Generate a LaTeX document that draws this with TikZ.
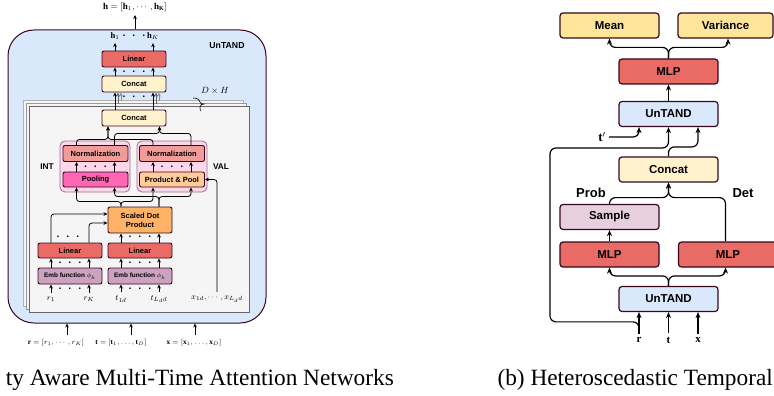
\documentclass[tikz,border=0pt]{standalone}
\usepackage{fontspec}
\setmainfont{Liberation Serif}
\setsansfont{Liberation Sans}
\usepackage{amsmath,amssymb}
\usetikzlibrary{calc,arrows.meta}
\definecolor{boxline}{HTML}{36071F}
\definecolor{cblue}{HTML}{DAE8FC}
\definecolor{cred}{HTML}{EA6B66}
\definecolor{ccat}{HTML}{FFF2CC}
\definecolor{cmean}{HTML}{FFE599}
\definecolor{cnorm}{HTML}{F19C99}
\definecolor{cpool}{HTML}{FF66B3}
\definecolor{cprod}{HTML}{FFCC99}
\definecolor{csdp}{HTML}{FFB366}
\definecolor{cemb}{HTML}{CDA2BE}
\definecolor{csample}{HTML}{E6D0DE}
\definecolor{cgroup}{HTML}{FAD7E9}
\definecolor{cgroupline}{HTML}{A07090}
\definecolor{cpage}{HTML}{F5F5F5}
\tikzstyle{bigbox} = [
    draw=boxline,
    fill=cblue,
    line width=1pt,
    rounded corners=26pt,
    minimum width=258pt,
    minimum height=293pt
    ]
\tikzstyle{page} = [
    draw=black!60,
    fill=cpage,
    line width=0.8pt,
    minimum width=220pt,
    minimum height=206pt
    ]
\tikzstyle{grp} = [
    draw=cgroupline,
    fill=cgroup,
    line width=0.8pt,
    rounded corners=5pt,
    minimum width=70pt,
    minimum height=51pt
    ]
\tikzstyle{lbox} = [
    draw=boxline,
    line width=0.9pt,
    rounded corners=2pt,
    minimum width=64pt,
    minimum height=16pt,
    inner sep=0pt,
    align=center,
    font=\sffamily\bfseries\fontsize{7.5}{8.5}\selectfont
    ]
\tikzstyle{rbox} = [
    draw=boxline,
    line width=1.2pt,
    rounded corners=3pt,
    minimum width=99pt,
    minimum height=25pt,
    inner sep=0pt,
    font=\sffamily\bfseries\fontsize{11.5}{13}\selectfont
    ]
\tikzstyle{tag} = [font=\sffamily\bfseries\fontsize{8.3}{9}\selectfont, inner sep=0pt]
\tikzstyle{dotrow} = [font=\boldmath\fontsize{11}{11}\selectfont, inner sep=0pt]
\tikzstyle{wire} = [line width=0.8pt, rounded corners=3pt]
\tikzstyle{arr} = [wire, -{Stealth[length=4pt,width=3.6pt]}]
\tikzstyle{rwire} = [line width=1.2pt, rounded corners=6pt]
\tikzstyle{rarr} = [rwire, -{Stealth[length=6pt,width=5pt]}]

\begin{document}
\begin{tikzpicture}[x=1pt,y=-1pt]
\useasboundingbox (0,0) rectangle (774,396);
\clip (0,0) rectangle (774,396);

% (a) UnTAND
\node[bigbox] (untL) at (137,176.5) {};
\node[tag, font=\sffamily\bfseries\fontsize{8.7}{9}\selectfont] (untLname) at (227,46) {UnTAND};
\node[page, draw=black!30] (pg1) at (133,203) {};
\node[page, draw=black!40] (pg2) at (136,206) {};
\node[page] (pg3) at (139,209) {};

\node[lbox, fill=cred] (lin) at (134,59) {Linear};
\node[lbox, fill=ccat] (catB) at (134,84) {Concat};
\node[lbox, fill=ccat] (catA) at (134,118) {Concat};

\node[grp] (intgrp) at (95,166.5) {};
\node[grp] (valgrp) at (172,166.5) {};
\node[lbox, fill=cnorm, minimum width=65pt] (intnorm) at (95.5,153.5) {Normalization};
\node[lbox, fill=cnorm, minimum width=65pt] (valnorm) at (172,153.5) {Normalization};
\node[lbox, fill=cpool, minimum width=65pt, minimum height=15pt] (pool) at (95.5,179.5) {Pooling};
\node[lbox, fill=cprod, minimum width=65pt, minimum height=15pt] (ppool) at (172,179.5) {Product \& Pool};
\node[tag] (intname) at (47,167) {INT};
\node[tag] (valname) at (221,167) {VAL};

\node[lbox, fill=csdp, minimum height=26pt, font=\sffamily\bfseries\fontsize{7.5}{9}\selectfont] (sdp) at (140,220) {Scaled Dot\\Product};
\node[lbox, fill=cred, minimum height=15pt] (linL) at (70,250.5) {Linear};
\node[lbox, fill=cred, minimum height=15pt] (linR) at (140,250.5) {Linear};
\node[lbox, fill=cemb, font=\sffamily\bfseries\fontsize{6.4}{7}\selectfont] (embL) at (70,276) {Emb function $\phi_h$};
\node[lbox, fill=cemb, font=\sffamily\bfseries\fontsize{6.4}{7}\selectfont] (embR) at (140,276) {Emb function $\phi_h$};

% inputs inside
\node[font=\fontsize{8}{9}\selectfont] (r1) at (51,299) {$r_1$};
\node[font=\fontsize{8}{9}\selectfont] (rK) at (89,299) {$r_K$};
\node[font=\fontsize{8}{9}\selectfont] (t1) at (121,299) {$t_{1d}$};
\node[font=\fontsize{8}{9}\selectfont] (tL) at (159,299) {$t_{L_d d}$};
\node[font=\fontsize{8}{9}\selectfont] (xin) at (217,299) {$x_{1d},\cdots,x_{L_d d}$};

\foreach \n in {r1,rK,t1,tL} \draw[arr] (\n.north) -- (\n.north |- embL.south);
\node[dotrow] at (70,289) {$\cdot\;\cdot\;\cdot$};
\node[dotrow] at (140,289) {$\cdot\;\cdot\;\cdot$};

\draw[arr] ([xshift=-19pt]embL.north) -- ([xshift=-19pt]linL.south);
\draw[arr] ([xshift=19pt]embL.north) -- ([xshift=19pt]linL.south);
\draw[arr] ([xshift=-19pt]embR.north) -- ([xshift=-19pt]linR.south);
\draw[arr] ([xshift=19pt]embR.north) -- ([xshift=19pt]linR.south);
\node[dotrow] at (70,263) {$\cdot\;\cdot\;\cdot$};
\node[dotrow] at (140,263) {$\cdot\;\cdot\;\cdot$};

\draw[arr] ([xshift=-19pt]linL.north) |- ($(sdp.west)+(0,-6)$);
\draw[arr] ([xshift=19pt]linL.north) |- ($(sdp.west)+(0,3)$);
\draw[arr] ([xshift=-19pt]linR.north) -- ([xshift=-19pt]sdp.south);
\draw[arr] ([xshift=19pt]linR.north) -- ([xshift=19pt]sdp.south);
\node[dotrow] at (68,237) {$\cdot\;\cdot\;\cdot$};
\node[dotrow] at (140,237) {$\cdot\;\cdot\;\cdot$};

% scaled dot product to the two heads
\draw[arr] ([xshift=-19pt]sdp.north) -- ++(0,-5) -| ([xshift=-19pt]pool.south);
\draw[arr] ([xshift=-19pt]sdp.north) -- ++(0,-5) -| ([xshift=-19pt]ppool.south);
\draw[arr] ([xshift=19pt]sdp.north) -- ++(0,-10) -| ([xshift=19pt]pool.south);
\draw[arr] ([xshift=19pt]sdp.north) -- ++(0,-10) -| ([xshift=19pt]ppool.south);
\draw[arr] (xin.north) |- (ppool.east);

\draw[arr] ([xshift=-19pt]pool.north) -- ([xshift=-19pt]intnorm.south);
\draw[arr] ([xshift=19pt]pool.north) -- ([xshift=19pt]intnorm.south);
\draw[arr] ([xshift=-19pt]ppool.north) -- ([xshift=-19pt]valnorm.south);
\draw[arr] ([xshift=19pt]ppool.north) -- ([xshift=19pt]valnorm.south);
\node[dotrow] at (95.5,167) {$\cdot\;\cdot\;\cdot$};
\node[dotrow] at (172,167) {$\cdot\;\cdot\;\cdot$};

% heads to concat
\draw[arr] ([xshift=-19pt]intnorm.north) |- ($(catA.south)+(-26,13)$) -- ($(catA.south)+(-26,0)$);
\draw[arr] ([xshift=-19pt]valnorm.north) |- ($(catA.south)+(-26,13)$) -- ($(catA.south)+(-26,0)$);
\draw[arr] ([xshift=19pt]intnorm.north) |- ($(catA.south)+(25.5,7)$) -- ($(catA.south)+(25.5,0)$);
\draw[arr] ([xshift=19pt]valnorm.north) |- ($(catA.south)+(25.5,7)$) -- ($(catA.south)+(25.5,0)$);

% D x H heads
\foreach \s in {-19,19} {
  \draw[arr, black!45] ($(catA.north)+(\s+6,-9)$) -- ($(catB.south)+(\s+6,0)$);
  \draw[arr, black!60] ($(catA.north)+(\s+3,-6)$) -- ($(catB.south)+(\s+3,0)$);
  \draw[arr] ([xshift=\s pt]catA.north) -- ([xshift=\s pt]catB.south);
}
\node[dotrow] at (134,97) {$\cdot\;\cdot\;\cdot$};
\draw[line width=0.6pt] (193,98) .. controls (198,98) and (200,100) .. (200,102)
  .. controls (200,104) and (202,104) .. (204,104)
  .. controls (202,104) and (200,105) .. (200,107)
  .. controls (200,109) and (200,110) .. (201,111);
\node[font=\fontsize{9}{10}\selectfont] (dh) at (215,91) {$D\times H$};

\draw[arr] ([xshift=-19pt]catB.north) -- ([xshift=-19pt]lin.south);
\draw[arr] ([xshift=19pt]catB.north) -- ([xshift=19pt]lin.south);
\node[dotrow] at (134,72) {$\cdot\;\cdot\;\cdot$};

\node[font=\fontsize{8.5}{9}\selectfont] (h1) at (115,36) {$\mathbf{h}_1$};
\node[font=\fontsize{8.5}{9}\selectfont] (hK) at (153,36) {$\mathbf{h}_K$};
\node[dotrow] at (134,36) {$\cdot\;\cdot\;\cdot$};
\draw[arr] ([xshift=-19pt]lin.north) -- (h1.south);
\draw[arr] ([xshift=19pt]lin.north) -- (hK.south);

\node[font=\fontsize{9}{10}\selectfont] (hout) at (135,7) {$\mathbf{h}=[\mathbf{h}_1,\cdots,\mathbf{h}_{\mathbf{K}}]$};
\draw[arr] (hout.south |- untL.north) -- (hout.south);

% outer inputs
\node[font=\fontsize{7.2}{8}\selectfont] (rvec) at (56,343) {$\mathbf{r}=[r_1,\cdots,r_K]$};
\node[font=\fontsize{7.2}{8}\selectfont] (tvec) at (121,343) {$\mathbf{t}=[\mathbf{t}_1,\ldots,\mathbf{t}_D]$};
\node[font=\fontsize{7.2}{8}\selectfont] (xvec) at (194,343) {$\mathbf{x}=[\mathbf{x}_1,\ldots,\mathbf{x}_D]$};
\coordinate (ra) at (67,335);
\coordinate (ta) at (131,335);
\coordinate (xa) at (195,335);
\foreach \c in {ra,ta,xa} \draw[arr] (\c) -- (\c |- untL.south);

% (b) heteroscedastic decoder
\node[rbox, fill=cmean] (mean) at (609.5,25.5) {Mean};
\node[rbox, fill=cmean, minimum width=95pt] (var) at (725.5,25.5) {Variance};
\node[rbox, fill=cred] (mlpT) at (668.5,71.5) {MLP};
\node[rbox, fill=cblue] (untT) at (668.5,114) {UnTAND};
\node[rbox, fill=ccat] (catR) at (668.5,169.5) {Concat};
\node[rbox, fill=csample] (sample) at (609.5,217) {Sample};
\node[rbox, fill=cred] (mlpP) at (609.5,254.5) {MLP};
\node[rbox, fill=cred] (mlpD) at (728,254.5) {MLP};
\node[rbox, fill=cblue] (untB) at (668.5,299) {UnTAND};
\node[font=\sffamily\bfseries\fontsize{13}{14}\selectfont] (prob) at (591,193) {Prob};
\node[font=\sffamily\bfseries\fontsize{13}{14}\selectfont] (det) at (743,193) {Det};

\node[font=\fontsize{11}{12}\selectfont] (rin) at (639,340) {$\mathbf{r}$};
\node[font=\fontsize{11}{12}\selectfont] (tin) at (668.5,340) {$\mathbf{t}$};
\node[font=\fontsize{11}{12}\selectfont] (xin2) at (698,340) {$\mathbf{x}$};
\foreach \n in {rin,tin,xin2} \draw[rarr] (\n.north) -- (\n.north |- untB.south);

\draw[rarr] (untB.north) -- ++(0,-10) -| (mlpP.south);
\draw[rarr] (untB.north) -- ++(0,-10) -| ([xshift=-2.5pt]mlpD.south);
\draw[rarr] (mlpP.north) -- (sample.south);
\draw[rarr] (sample.north) |- ($(catR.south)+(0,15)$) -- (catR.south);
\draw[rarr] ([xshift=-2.5pt]mlpD.north) |- ($(catR.south)+(0,15)$) -- (catR.south);

\coordinate (loopc) at (550,148);
\draw[rarr] (rin.north) -- ++(0,-12) -| (loopc) -| (untT.south);
\draw[rarr] (catR.north) -- ++(0,-9.5) -| ([xshift=29.5pt]untT.south);
\node[font=\fontsize{13}{14}\selectfont] (tp) at (602,137) {$\mathbf{t}'$};
\draw[rarr] (tp.east) -| ([xshift=-29.5pt]untT.south);
\draw[rarr] (untT.north) -- (mlpT.south);
\draw[rarr] (mlpT.north) -- ++(0,-11) -| (mean.south);
\draw[rarr] (mlpT.north) -- ++(0,-11) -| ([xshift=2.5pt]var.south);

% captions
\node[anchor=base east, inner sep=0pt, font=\fontsize{23.3}{28}\selectfont] (capA) at (394,385) {ty Aware Multi-Time Attention Networks};
\node[anchor=base east, inner sep=0pt, font=\fontsize{23.3}{28}\selectfont] (capB) at (773,385) {(b) Heteroscedastic Temporal};
\end{tikzpicture}
\end{document}
